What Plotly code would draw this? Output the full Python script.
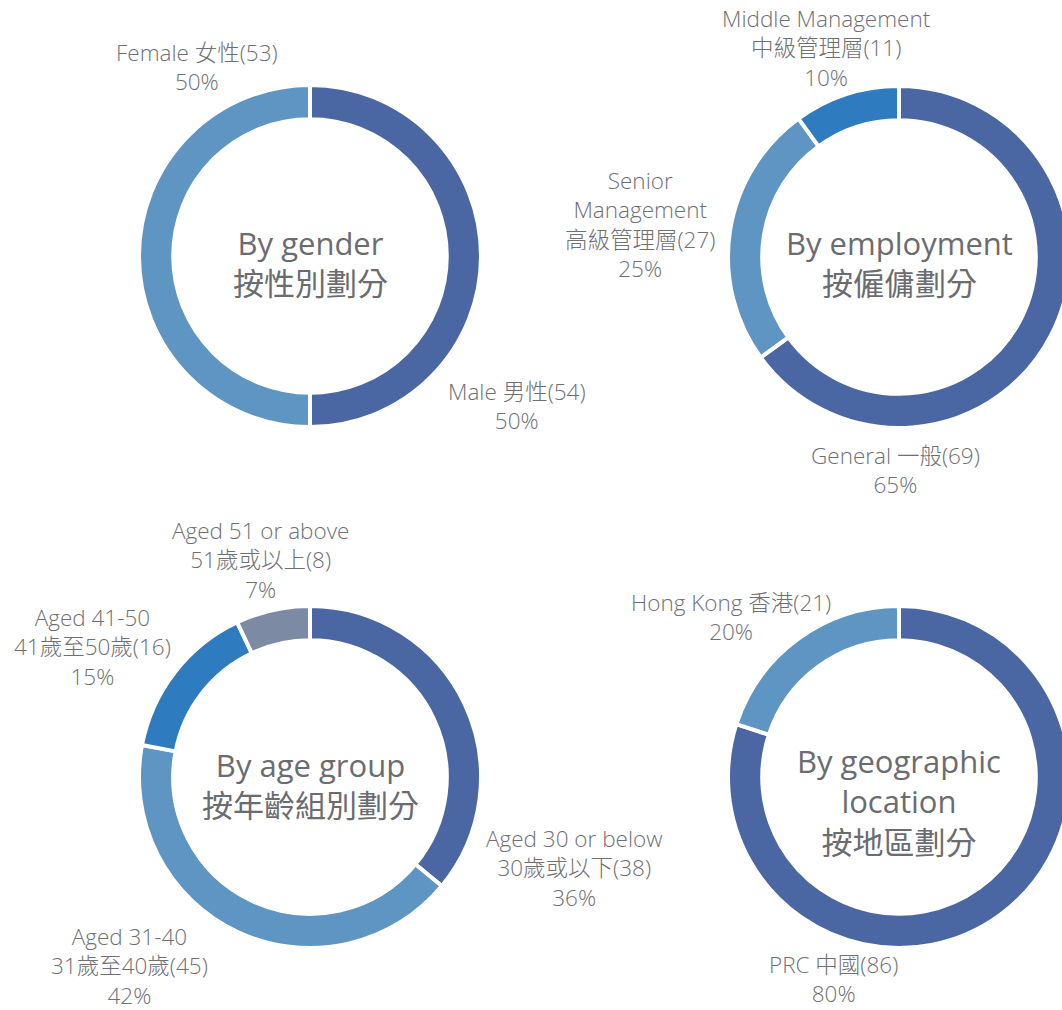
import plotly.graph_objects as go

# ---------------- data ----------------
gender_labels = ["Male 男性", "Female 女性"]
gender_counts = [54, 53]
gender_pct = [50, 50]

employ_labels = ["General 一般", "Senior<br>Management<br>高級管理層", "Middle Management<br>中級管理層"]
employ_counts = [69, 27, 11]
employ_pct = [65, 25, 10]

age_labels = ["Aged 30 or below<br>30歲或以下", "Aged 31-40<br>31歲至40歲", "Aged 41-50<br>41歲至50歲", "Aged 51 or above<br>51歲或以上"]
age_counts = [38, 45, 16, 8]
age_pct = [36, 42, 15, 7]

geo_labels = ["PRC 中國", "Hong Kong 香港"]
geo_counts = [86, 21]
geo_pct = [80, 20]

titles = ["By gender<br>按性別劃分", "By employment<br>按僱傭劃分",
          "By age group<br>按年齡組別劃分", "By geographic<br>location<br>按地區劃分"]

# ---------------- styling / layout ----------------
W, H = 1080, 1010
DARK, LIGHT, MID, GREY = "#4A67A3", "#5E95C3", "#2E7BBF", "#7C8BA3"
TXT = "#6F7073"
TTL = "#6A6C70"
FONT = "'Open Sans', 'Noto Sans CJK TC', sans-serif"
R = 171
centers = [(310, 256), (899, 257), (310, 777), (899, 777)]

datasets = [
    (gender_labels, gender_counts, gender_pct, [DARK, LIGHT]),
    (employ_labels, employ_counts, employ_pct, [DARK, LIGHT, MID]),
    (age_labels, age_counts, age_pct, [DARK, LIGHT, MID, GREY]),
    (geo_labels, geo_counts, geo_pct, [DARK, LIGHT]),
]

# label block positions (center x, y of first line) in pixels
label_pos = [
    [(517, 392), (197, 53)],
    [(895, 456), (640, 181), (826, 19)],
    [(574, 839), (129, 937), (92, 618), (260, 531)],
    [(833, 965), (731, 603)],
]
title_pos = [(310, 244), (899, 244), (310, 766), (899, 763)]

LABEL_SIZE = 22.5
LINE_GAP = 28.7
TITLE_SIZE = 31
TITLE_GAP = 38

fig = go.Figure()
annotations = []

def ann(lines, x, y_first, gap, size, color, weight):
    yc = y_first + (len(lines) - 1) * gap / 2
    annotations.append(dict(
        text="<br>".join(lines), x=x / W, y=1 - yc / H, xref="paper", yref="paper",
        xanchor="center", yanchor="middle", align="center", showarrow=False,
        font=dict(family=FONT, size=size, color=color, weight=weight)))

for i, (labels, counts, pct, colors) in enumerate(datasets):
    cx, cy = centers[i]
    fig.add_trace(go.Pie(
        labels=[l.replace("<br>", " ") for l in labels], values=pct,
        sort=False, direction="clockwise", rotation=0,
        hole=0.80, textinfo="none", hoverinfo="label+percent",
        marker=dict(colors=colors, line=dict(color="white", width=4)),
        domain=dict(x=[(cx - R) / W, (cx + R) / W],
                    y=[1 - (cy + R) / H, 1 - (cy - R) / H]),
        showlegend=False))
    for j, lab in enumerate(labels):
        lines = lab.split("<br>")
        lines[-1] = f"{lines[-1]}({counts[j]})"
        lines.append(f"{pct[j]}%")
        lx, ly = label_pos[i][j]
        ann(lines, lx, ly, LINE_GAP, LABEL_SIZE, TXT, 300)
    tx, ty = title_pos[i]
    ann(titles[i].split("<br>"), tx, ty, TITLE_GAP, TITLE_SIZE, TTL, 400)

fig.update_layout(
    width=W, height=H, autosize=False,
    margin=dict(l=0, r=0, t=0, b=0),
    paper_bgcolor="white", plot_bgcolor="white",
    annotations=annotations,
)

fig.write_html("out.html", config={"displayModeBar": False},
               post_script="document.body.style.margin='0';document.body.style.overflow='hidden';document.documentElement.style.overflow='hidden';")
